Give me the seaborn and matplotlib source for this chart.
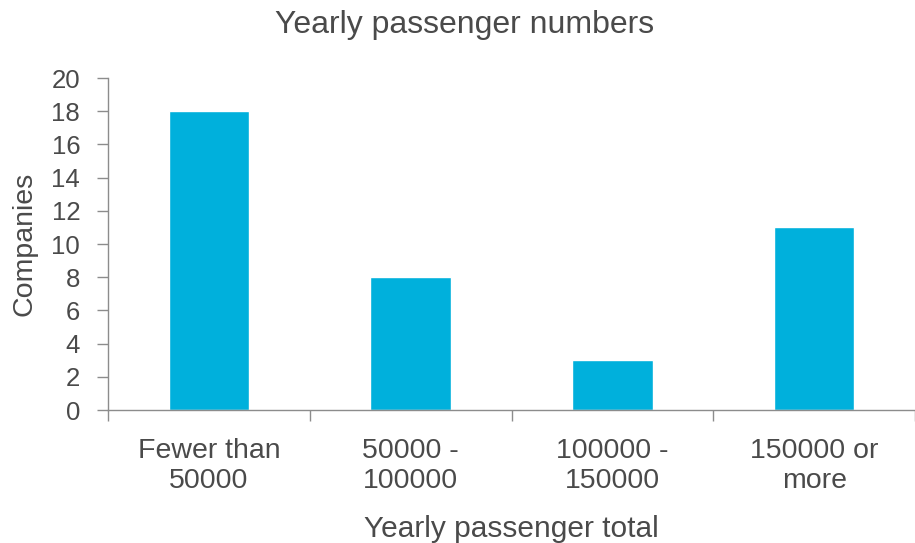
import matplotlib
matplotlib.use("Agg")
import matplotlib.pyplot as plt
import seaborn as sns
import pandas as pd
import numpy as np

categories = ["Fewer than\n50000", "50000 -\n100000", "100000 -\n150000", "150000 or\nmore"]
companies = [18, 8, 3, 11]
yticks = [0, 2, 4, 6, 8, 10, 12, 14, 16, 18, 20]

sns.set_theme(style="white")
plt.rcParams['font.family'] = ['Liberation Sans', 'DejaVu Sans']

text_color = "#4a4a4a"
axis_color = "#8c8c8c"
bar_color = "#00b0dc"

df = pd.DataFrame({"cat": categories, "val": companies})

fig = plt.figure(figsize=(9.15, 5.43), dpi=100)
ax = fig.add_axes([108/915, 1 - 410/543, 1 - 108/915, (410 - 78)/543])

sns.barplot(data=df, x="cat", y="val", color=bar_color, width=0.4,
            saturation=1, ax=ax)

ax.set_xlim(-0.5, 3.456)
ax.set_ylim(0, 20)
ax.set_yticks(yticks)
ax.set_yticklabels([str(t) for t in yticks], fontsize=18.5, color=text_color)
ax.set_xticks(range(len(categories)))
ax.set_xticklabels(categories, fontsize=20.5, color=text_color, linespacing=1.22)
ax.set_xticks([-0.5, 0.5, 1.5, 2.5, 3.5], minor=True)
ax.tick_params(axis="x", which="major", length=0, pad=20)
ax.tick_params(axis="x", which="minor", length=8, width=1, color=axis_color, direction="out", bottom=True)
ax.tick_params(axis="y", which="major", length=8, width=1, color=axis_color, direction="out", left=True, pad=12)

for s in ["top", "right"]:
    ax.spines[s].set_visible(False)
for s in ["left", "bottom"]:
    ax.spines[s].set_color(axis_color)
    ax.spines[s].set_linewidth(1)

ax.set_xlabel("Yearly passenger total", fontsize=21.5, color=text_color, labelpad=15)
ax.set_ylabel("Companies", fontsize=20.5, color=text_color, labelpad=10)
fig.text(465/915, 1 - 25/543, "Yearly passenger numbers", fontsize=23,
         color=text_color, ha="center", va="center")

fig.savefig("out.png", dpi=100)
